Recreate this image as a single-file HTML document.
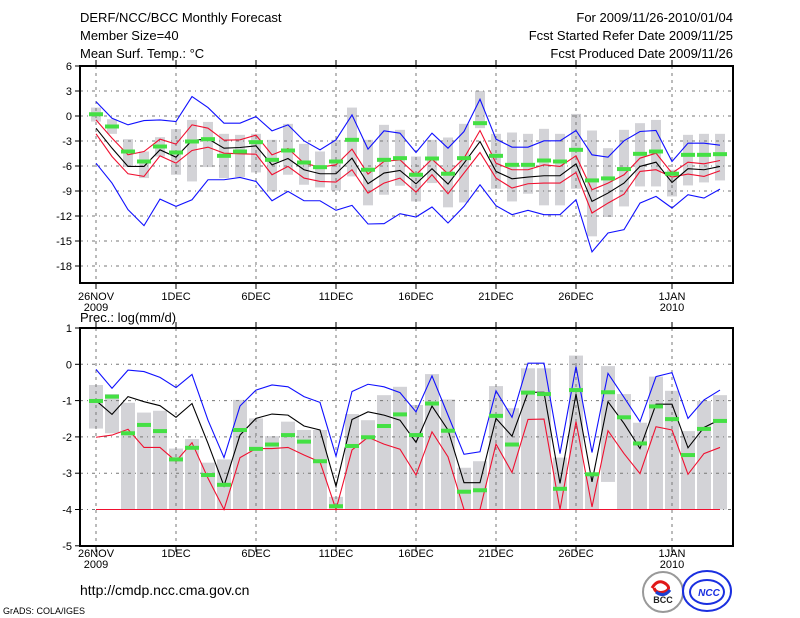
<!DOCTYPE html>
<html><head><meta charset="utf-8"><style>
html,body{margin:0;padding:0;background:#fff;}
svg{display:block;font-family:"Liberation Sans",sans-serif;}
</style></head><body>
<svg id="chart" width="800" height="618" viewBox="0 0 800 618" xmlns="http://www.w3.org/2000/svg">
<g font-size="13" fill="#000">
<text x="80" y="22">DERF/NCC/BCC Monthly Forecast</text>
<text x="80" y="40">Member Size=40</text>
<text x="80" y="58">Mean Surf. Temp.: °C</text>
<text x="733" y="22" text-anchor="end">For 2009/11/26-2010/01/04</text>
<text x="733" y="40" text-anchor="end">Fcst Started Refer Date 2009/11/25</text>
<text x="733" y="58" text-anchor="end">Fcst Produced Date 2009/11/26</text>
<text x="80" y="322">Prec.: log(mm/d)</text>
<text x="80" y="595" font-size="14">http://cmdp.ncc.cma.gov.cn</text>
<text x="3" y="614" font-size="9">GrADS: COLA/IGES</text>
</g>
<g>
<circle cx="663" cy="592" r="20" fill="#fff" stroke="#999" stroke-width="2"/>
<path d="M652 588 q6 -10 14 -4 q6 5 -2 8 q-8 2 -10 -4" fill="none" stroke="#e01818" stroke-width="3"/>
<path d="M656 592 q8 6 14 -2" fill="none" stroke="#1a3fd0" stroke-width="3"/>
<text x="663" y="603" font-size="9" font-weight="bold" text-anchor="middle" fill="#222">BCC</text>
</g>
<g>
<ellipse cx="707" cy="591" rx="24" ry="20" fill="#fff" stroke="#1a2fe0" stroke-width="2"/>
<ellipse cx="707" cy="592" rx="17" ry="12" fill="none" stroke="#1a2fe0" stroke-width="2"/>
<text x="709" y="596" font-size="10" font-weight="bold" font-style="italic" text-anchor="middle" fill="#1a2fe0">NCC</text>
</g>
<g id="topPanel"></g>
<g id="botPanel"></g>
</svg>
<script>
// ---- data: temperature panel (°C) ----
const tBlueU = [1.73,-0.27,-1.06,-0.55,-0.47,-0.67,2.33,1.01,-0.86,-0.86,-0.07,-1.78,-1.06,-2.98,-4.06,-2.86,0.13,-3.98,-1.78,-2.06,-4.38,-2.06,-3.86,-1.86,2.01,-2.78,-3.74,-3.74,-2.98,-2.98,-1.74,-4.66,-4.94,-2.98,-1.86,-1.74,-5.46,-3.26,-3.26,-3.5];
const tRedU = [-0.47,-2.66,-4.66,-4.26,-2.78,-3.38,-1.06,-1.46,-2.9,-2.86,-2.3,-4.66,-3.9,-5.66,-6.14,-5.86,-3.98,-6.97,-5.46,-5.26,-7.05,-5.18,-6.93,-5.06,-1.74,-5.66,-6.45,-6.45,-5.86,-6.05,-4.78,-8.85,-8.05,-7.05,-5.06,-4.46,-6.85,-5.54,-5.74,-5.34];
const tMean = [-1.46,-3.86,-6.05,-6.05,-4.06,-4.94,-2.94,-2.74,-3.86,-3.78,-3.58,-5.86,-5.1,-6.45,-6.93,-6.93,-5.06,-8.13,-6.85,-6.53,-8.13,-6.33,-8.17,-5.66,-3.06,-6.65,-7.53,-7.33,-7.17,-7.17,-5.74,-10.25,-9.25,-8.05,-6.05,-5.54,-7.97,-6.33,-6.45,-6.05];
const tRedL = [-2.14,-4.86,-6.93,-7.25,-4.78,-5.66,-4.14,-3.74,-4.46,-4.54,-4.58,-7.05,-6.05,-7.45,-7.85,-7.93,-6.45,-9.25,-8.05,-7.45,-9.13,-7.05,-9.33,-6.85,-4.38,-7.45,-8.65,-8.13,-8.05,-8.05,-6.77,-11.64,-10.45,-9.37,-6.65,-6.45,-7.33,-6.97,-7.25,-6.57];
const tBlueL = [-5.66,-8.05,-11.24,-13.16,-9.97,-10.85,-10.05,-7.65,-7.65,-7.37,-7.85,-10.17,-9.05,-10.17,-10.17,-11.32,-10.72,-12.96,-12.92,-11.72,-12.12,-10.92,-12.84,-10.85,-8.25,-10.77,-11.84,-11.32,-11.84,-11.84,-10.05,-16.31,-14.04,-13.64,-10.45,-9.65,-11.04,-9.45,-9.85,-8.77];
const tObs = [0.21,-1.26,-4.26,-5.46,-3.66,-4.38,-3.06,-2.78,-4.78,-4.26,-3.14,-5.26,-4.14,-5.58,-6.14,-5.46,-2.86,-6.45,-5.26,-5.06,-7.05,-5.1,-6.93,-5.06,-0.86,-4.78,-5.86,-5.86,-5.34,-5.46,-4.06,-7.73,-7.49,-6.37,-4.54,-4.26,-6.93,-4.66,-4.66,-4.58];
const tMax = [1.01,-0.39,-2.78,-4.26,-2.54,-1.58,-0.47,-0.71,-2.14,-2.26,-2.14,-2.86,-0.94,-3.34,-4.26,-2.86,1.01,-2.86,-1.06,-1.66,-4.86,-2.86,-2.58,-0.94,3.01,-2.14,-1.98,-2.14,-1.54,-2.14,0.25,-1.74,-3.86,-1.66,-0.86,-0.47,-6.45,-2.26,-2.14,-2.14];
const tMin = [-0.67,-2.14,-6.13,-7.45,-4.86,-7.05,-7.85,-6.13,-7.45,-7.33,-6.77,-9.05,-7.05,-8.25,-8.57,-8.93,-7.25,-10.72,-9.45,-8.37,-10.25,-8.05,-10.96,-10.37,-1.46,-8.73,-10.25,-9.33,-10.72,-10.72,-8.73,-14.44,-12.12,-10.85,-8.45,-8.45,-9.65,-8.33,-7.97,-7.73];
const tTicks = [6,3,0,-3,-6,-9,-12,-15,-18];
// ---- data: precipitation panel (log mm/d) ----
const pBlue = [-0.14,-0.66,-0.16,-0.2,-0.36,-0.64,-0.28,-1.54,-2.57,-1.15,-0.71,-0.57,-0.62,-0.89,-1.05,-2.53,-0.75,-0.55,-0.62,-0.78,-1.31,-0.32,-1.4,-2.48,-2.41,-0.73,-1.46,0.03,0.03,-2.46,-0.06,-2.43,-0.25,-0.91,-1.58,-0.34,-0.23,-1.49,-0.98,-0.71];
const pMean = [-1.0,-1.38,-0.89,-1.03,-1.14,-1.46,-1.08,-2.18,-3.35,-1.95,-1.49,-1.37,-1.4,-1.7,-1.81,-3.36,-1.52,-1.31,-1.4,-1.54,-2.15,-1.15,-1.81,-3.26,-3.26,-1.49,-1.98,-0.77,-0.77,-3.28,-0.82,-3.24,-1.03,-1.63,-2.32,-1.1,-1.1,-2.3,-1.74,-1.52];
const pRed = [-2.01,-1.95,-1.79,-2.29,-2.29,-2.67,-2.16,-3.14,-4.0,-2.57,-2.32,-2.32,-2.29,-2.5,-2.69,-4.0,-2.36,-2.01,-2.2,-2.34,-3.05,-1.86,-2.55,-4.0,-4.0,-2.2,-2.98,-1.52,-1.51,-4.0,-1.58,-3.93,-1.83,-2.46,-3.01,-1.72,-1.81,-3.03,-2.46,-2.29];
const pObs = [-1.01,-0.89,-1.9,-1.67,-1.84,-2.62,-2.3,-3.05,-3.32,-1.81,-2.33,-2.21,-1.95,-2.13,-2.67,-3.91,-2.25,-2.01,-1.7,-1.38,-1.95,-1.08,-1.83,-3.51,-3.47,-1.42,-2.21,-0.78,-0.82,-3.43,-0.71,-3.03,-0.77,-1.46,-2.18,-1.16,-1.51,-2.5,-1.78,-1.56];
const pMax = [-0.57,-0.82,-1.06,-1.33,-1.28,-2.32,-2.06,-2.71,-2.62,-0.98,-1.49,-1.98,-1.58,-1.81,-1.81,-3.65,-1.37,-1.54,-0.85,-0.62,-1.12,-0.27,-0.97,-2.85,-2.67,-0.6,-1.21,-0.11,-0.11,-2.57,0.24,-3.01,-0.05,-0.82,-1.61,-0.34,-0.73,-1.84,-1.01,-0.85];
const pMin = [-1.77,-1.9,-4,-4,-4,-4,-4,-4,-4,-4,-4,-4,-4,-4,-4,-4,-4,-4,-4,-4,-4,-4,-4,-4,-4,-4,-4,-4,-4,-4,-4,-4,-3.24,-4,-4,-4,-4,-4,-4,-4];
const pFloor = -4;
const pTicks = [1,0,-1,-2,-3,-4,-5];
const xLabels = ["26NOV","1DEC","6DEC","11DEC","16DEC","21DEC","26DEC","1JAN"];
const xLabelDays = [0,5,10,15,20,25,30,36];
const xYears = {0:"2009",36:"2010"};

const NS="http://www.w3.org/2000/svg";
const X0=80, X1=733;
const xs = d => 96 + 16*d;
const yT = v => 66 + (6 - v)*25/3;
const yB = v => 364.3 - v*36.3;
function mk(parent, tag, attrs){const e=document.createElementNS(NS,tag);for(const k in attrs)e.setAttribute(k,attrs[k]);parent.appendChild(e);return e;}

function panel(g, name, y0, y1, ticks, ys, labY){
  const frame=mk(g,'g',{});
  
  
  ticks.forEach(t=>{
    const y=ys(t);
    if(y>y0+1 && y<y1-1){const l=mk(frame,'line',{x1:X0,x2:X1,y1:y,y2:y,stroke:'#777','stroke-dasharray':'3 4 1 4','stroke-width':1});
      
      }
    const tk=mk(frame,'line',{x1:X0-5,x2:X0,y1:y,y2:y,stroke:'#000'});
    
    
    const tx=mk(frame,'text',{x:X0-8,y:y+4,'font-size':11,'text-anchor':'end'});
    tx.textContent=t;
    
    
  });
  xLabelDays.forEach((d,i)=>{
    const x=xs(d);
    const l=mk(frame,'line',{x1:x,x2:x,y1:y0,y2:y1,stroke:'#777','stroke-dasharray':'3 4','stroke-width':1});
    
    
    const tk=mk(frame,'line',{x1:x,x2:x,y1:y1,y2:y1+6,stroke:'#000'});
    
    
    const tk2=mk(frame,'line',{x1:x,x2:x,y1:y0-6,y2:y0,stroke:'#000'});
    
    
    const tx=mk(frame,'text',{x:x,y:labY,'font-size':11,'text-anchor':'middle'});
    tx.textContent=xLabels[i];
    
    
    if(xYears[d]){const ty=mk(frame,'text',{x:x,y:labY+11,'font-size':11,'text-anchor':'middle'});
      ty.textContent=xYears[d];
      
      }
  });
  return frame;
}
function line(g,vals,ys,color,name){
  const p=mk(g,'polyline',{points:vals.map((v,i)=>xs(i)+','+ys(v)).join(' '),fill:'none',stroke:color,'stroke-width':1.1});
  
  
}
function bars(g,hi,lo,ys,w,name){
  hi.forEach((h,i)=>{
    const a=ys(h),b=ys(lo[i]);
    const r=mk(g,'rect',{x:xs(i)-w/2,y:a,width:w,height:b-a,fill:'#d3d3d7'});
    
    
  });
}
function marks(g,vals,ys,name){
  vals.forEach((v,i)=>{
    const r=mk(g,'rect',{x:xs(i)-7,y:ys(v)-2,width:14,height:4,fill:'#44e044'});
    
    
  });
}
// top panel
const topG=document.getElementById('topPanel');


bars(topG,tMax,tMin,yT,10,'temp-range-bar');
panel(topG,'temperature',66,283,tTicks,yT,300);
line(topG,tBlueU,yT,'#1010ff','temp-upper-blue-line');
line(topG,tBlueL,yT,'#1010ff','temp-lower-blue-line');
line(topG,tRedU,yT,'#f01030','temp-upper-red-line');
line(topG,tRedL,yT,'#f01030','temp-lower-red-line');
line(topG,tMean,yT,'#000','temp-mean-line');
marks(topG,tObs,yT,'temp-green-marker');
const f1=mk(topG,'rect',{x:X0,y:66,width:X1-X0,height:217,fill:'none',stroke:'#000','stroke-width':2});


// bottom panel
const botG=document.getElementById('botPanel');


bars(botG,pMax,pMin,yB,14,'precip-range-bar');
panel(botG,'precipitation',328,546,pTicks,yB,557);
line(botG,pBlue,yB,'#1010ff','precip-upper-blue-line');
line(botG,pRed.map(()=>pFloor),yB,'#f01030','precip-floor-line');
line(botG,pRed,yB,'#f01030','precip-red-line');
line(botG,pMean,yB,'#000','precip-mean-line');
marks(botG,pObs,yB,'precip-green-marker');
const f2=mk(botG,'rect',{x:X0,y:328,width:X1-X0,height:218,fill:'none',stroke:'#000','stroke-width':2});


</script>
</body></html>
